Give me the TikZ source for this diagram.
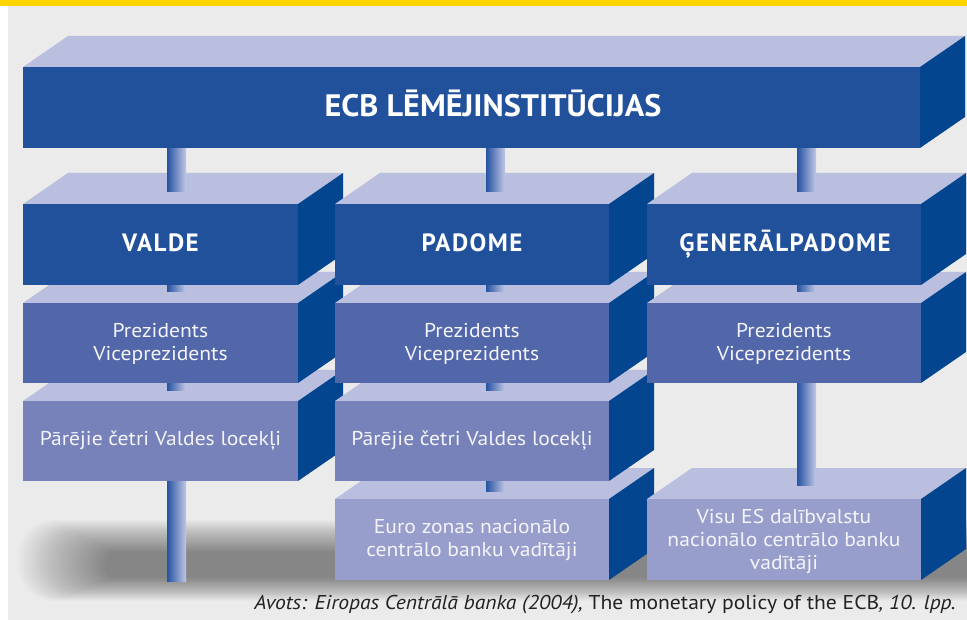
\documentclass[tikz,border=0pt]{standalone}
\usepackage{fontspec}
\setmainfont{PT Sans}[FakeStretch=1.08]
\newfontfamily\hdfont{PT Sans}[LetterSpace=6]
\newfontfamily\ecbfont{PT Sans}[FakeStretch=1.04]
\definecolor{bgc}{HTML}{EBEBEB}
\definecolor{yel}{HTML}{FFD500}
\definecolor{topc}{HTML}{BBBFDF}
\definecolor{sidec}{HTML}{03458F}
\definecolor{fa}{HTML}{22519C}
\definecolor{fb}{HTML}{5267A9}
\definecolor{fc}{HTML}{7682B9}
\definecolor{fd}{HTML}{989ECB}
\definecolor{pilL}{HTML}{2553A2}
\definecolor{pilR}{HTML}{C2C6E4}
\definecolor{txtc}{HTML}{F4F4FA}
\definecolor{capc}{HTML}{222222}
\newcommand\cuboid[5]{%
  \fill[topc] (#1,#2) -- ++(45,-31) -- ++(#3,0) -- ++(-45,31) -- cycle;
  \fill[sidec] (#1+#3,#2) -- ++(45,-31) -- ++(0,#4) -- ++(-45,31) -- cycle;
  \fill[#5] (#1,#2) rectangle ++(#3,#4);}
\newcommand\pillar[3]{\shade[left color=pilL, right color=pilR] (#1,#2) rectangle (#1+19,#3);}
\tikzset{
  hdtext/.style={text=white, font=\hdfont\bfseries\fontsize{25}{30}\selectfont, anchor=base, inner sep=0pt},
  bodytext/.style={text=txtc, font=\fontsize{20}{23}\selectfont, align=center, inner sep=0pt},
}
\begin{document}
\begin{tikzpicture}[x=1pt,y=-1pt]
\useasboundingbox (0,0) rectangle (967,620);
\fill[white] (0,0) rectangle (967,620);
\fill[bgc] (8,6) rectangle (967,620);
\fill[yel] (0,0) rectangle (967,6);
% shadow
\begin{scope}
\clip (8,6) rectangle (967,620);
\foreach \i in {0,...,29} {
  \pgfmathsetmacro\ya{520+\i*1.1}
  \pgfmathsetmacro\yb{601-\i*0.8}
  \pgfmathsetmacro\rr{0.45*(\yb-\ya)}
  \fill[black,opacity=0.017,rounded corners=\rr pt] (18+\i*3, \ya) rectangle (1030, \yb);
}
\end{scope}
% column 1
\pillar{167}{481}{581}
\cuboid{23}{401}{275}{80}{fc}
\pillar{167}{383}{391}
\cuboid{23}{303}{275}{80}{fb}
\pillar{167}{285}{292}
\cuboid{23}{204}{275}{81}{fa}
\pillar{167}{148}{192}
% column 2
\cuboid{335}{499}{274}{81}{fd}
\pillar{486}{481}{491}
\cuboid{335}{401}{274}{80}{fc}
\pillar{486}{383}{391}
\cuboid{335}{303}{274}{80}{fb}
\pillar{486}{285}{292}
\cuboid{335}{204}{274}{81}{fa}
\pillar{486}{148}{192}
% column 3
\cuboid{647}{499}{274}{81}{fd}
\pillar{797}{383}{485}
\cuboid{647}{303}{274}{80}{fb}
\pillar{797}{285}{292}
\cuboid{647}{204}{274}{81}{fa}
\pillar{797}{148}{192}
% top
\cuboid{23}{67}{897}{81}{fa}
% texts
\node[text=white, font=\ecbfont\bfseries\fontsize{31}{36}\selectfont, anchor=base, inner sep=0pt] (ecb) at (493,117) {ECB LĒMĒJINSTITŪCIJAS};
\node[hdtext] (valde) at (160.5,252) {VALDE};
\node[hdtext] (padome) at (472,252) {PADOME};
\node[hdtext] (gen) at (785,252) {ĢENERĀLPADOME};
\node[bodytext] (pv1) at (160.5,344) {Prezidents\\Viceprezidents};
\node[bodytext] (pv2) at (472,344) {Prezidents\\Viceprezidents};
\node[bodytext] (pv3) at (784,344) {Prezidents\\Viceprezidents};
\node[bodytext] (pc1) at (160.5,441) {Pārējie četri Valdes locekļi};
\node[bodytext] (pc2) at (472,441) {Pārējie četri Valdes locekļi};
\node[bodytext] (euro) at (472,540) {Euro zonas nacionālo\\centrālo banku vadītāji};
\node[bodytext] (visu) at (784,541) {Visu ES dalībvalstu\\nacionālo centrālo banku\\vadītāji};
\node[text=capc, font=\fontsize{20}{22}\selectfont, anchor=base east, inner sep=0pt] (src) at (956,609)
  {\itshape Avots: Eiropas Centrālā banka (2004),\upshape{} The monetary policy of the ECB\itshape, 10. lpp.};
\end{tikzpicture}
\end{document}
